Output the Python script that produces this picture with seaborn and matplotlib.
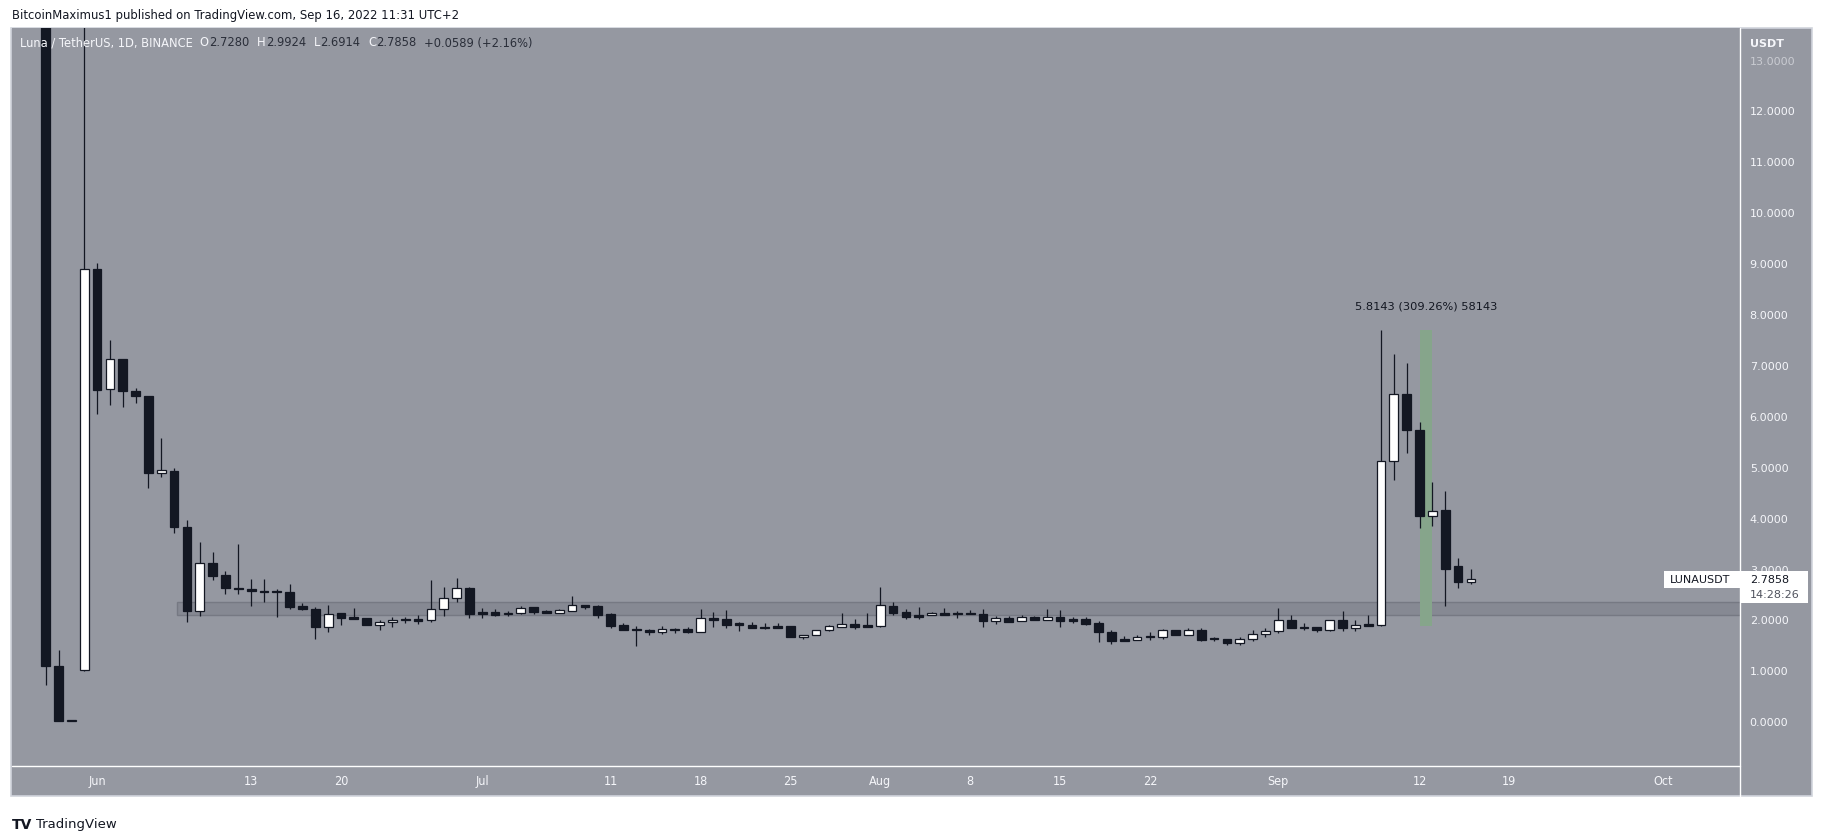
import numpy as np
import pandas as pd
import matplotlib
matplotlib.use("Agg")
import matplotlib.pyplot as plt
import matplotlib.dates as mdates
from matplotlib.patches import Rectangle
from matplotlib.lines import Line2D
import seaborn as sns

# daily candles, LUNA/USDT (Binance), first candle 2022-05-28
start_day = "2022-05-28"
opens = [18.5, 1.09, 0.0, 1.01, 8.88, 6.52, 7.12, 6.49, 6.39, 4.87,
         4.92, 3.82, 2.16, 3.10, 2.88, 2.62, 2.59, 2.54, 2.54, 2.53,
         2.26, 2.21, 1.85, 2.12, 2.04, 2.02, 1.90, 1.94, 1.985, 2.01,
         1.99, 2.21, 2.42, 2.61, 2.14, 2.15, 2.10, 2.13, 2.24, 2.16,
         2.13, 2.17, 2.28, 2.26, 2.10, 1.89, 1.805, 1.80, 1.75, 1.805,
         1.81, 1.76, 2.03, 2.00, 1.905, 1.90, 1.845, 1.87, 1.87, 1.66,
         1.70, 1.80, 1.86, 1.91, 1.89, 1.87, 2.26, 2.14, 2.09, 2.08,
         2.12, 2.115, 2.105, 2.10, 1.97, 2.02, 1.96, 2.04, 1.99, 2.04,
         2.00, 2.00, 1.93, 1.76, 1.61, 1.60, 1.665, 1.66, 1.80, 1.70,
         1.80, 1.615, 1.61, 1.54, 1.62, 1.72, 1.77, 1.98, 1.835, 1.85,
         1.79, 1.99, 1.83, 1.91, 1.89, 5.11, 6.42, 5.73, 4.03, 4.15,
         3.04, 2.7280]
highs = [19.8, 1.39, 0.02, 19.0, 9.00, 7.49, 7.12, 6.55, 6.39, 5.57,
         4.97, 3.96, 3.52, 3.32, 2.95, 3.49, 2.80, 2.80, 2.59, 2.69,
         2.33, 2.25, 2.28, 2.12, 2.22, 2.02, 1.98, 2.04, 2.05, 2.08,
         2.77, 2.63, 2.81, 2.63, 2.22, 2.20, 2.16, 2.26, 2.24, 2.18,
         2.20, 2.46, 2.28, 2.28, 2.12, 1.93, 1.87, 1.82, 1.87, 1.83,
         1.85, 2.20, 2.15, 2.18, 1.95, 1.94, 1.93, 1.93, 1.87, 1.70,
         1.80, 1.90, 2.12, 2.00, 2.12, 2.63, 2.34, 2.20, 2.24, 2.14,
         2.22, 2.16, 2.18, 2.20, 2.06, 2.06, 2.09, 2.06, 2.20, 2.18,
         2.05, 2.04, 1.96, 1.79, 1.67, 1.69, 1.75, 1.82, 1.80, 1.84,
         1.84, 1.65, 1.61, 1.65, 1.79, 1.84, 2.22, 2.08, 1.93, 1.85,
         1.99, 2.16, 1.98, 2.08, 7.69, 7.21, 7.03, 5.87, 4.70, 4.52,
         3.20, 2.9924]
lows = [0.71, 0.00, 0.00, 0.98, 6.03, 6.21, 6.18, 6.25, 4.58, 4.79,
        3.69, 1.95, 2.06, 2.78, 2.50, 2.50, 2.27, 2.35, 2.05, 2.20,
        2.19, 1.61, 1.75, 1.89, 2.01, 1.89, 1.79, 1.85, 1.92, 1.91,
        1.95, 2.07, 2.34, 2.03, 2.03, 2.07, 2.07, 2.11, 2.11, 2.13,
        2.13, 2.17, 2.20, 2.03, 1.83, 1.79, 1.48, 1.70, 1.71, 1.73,
        1.73, 1.76, 1.85, 1.83, 1.77, 1.83, 1.81, 1.83, 1.66, 1.62,
        1.70, 1.77, 1.86, 1.81, 1.85, 1.85, 2.09, 2.01, 2.01, 2.08,
        2.09, 2.02, 2.10, 1.85, 1.91, 1.95, 1.96, 1.99, 1.99, 1.85,
        1.93, 1.89, 1.56, 1.52, 1.58, 1.60, 1.60, 1.62, 1.70, 1.70,
        1.58, 1.58, 1.50, 1.50, 1.58, 1.66, 1.74, 1.83, 1.79, 1.75,
        1.77, 1.77, 1.77, 1.87, 1.88, 4.73, 5.27, 3.79, 3.83, 2.26,
        2.62, 2.6914]
closes = [1.09, 0.01, 0.0, 8.88, 6.51, 7.12, 6.48, 6.38, 4.87, 4.93,
          3.82, 2.16, 3.10, 2.86, 2.61, 2.60, 2.55, 2.53, 2.53, 2.25,
          2.21, 1.85, 2.10, 2.03, 2.01, 1.89, 1.94, 1.98, 1.98, 1.97,
          2.21, 2.43, 2.61, 2.11, 2.11, 2.08, 2.13, 2.23, 2.15, 2.13,
          2.18, 2.28, 2.25, 2.09, 1.87, 1.79, 1.80, 1.75, 1.81, 1.80,
          1.75, 2.02, 1.99, 1.89, 1.90, 1.83, 1.84, 1.83, 1.66, 1.70,
          1.80, 1.87, 1.91, 1.85, 1.85, 2.28, 2.13, 2.05, 2.04, 2.12,
          2.09, 2.11, 2.10, 1.97, 2.02, 1.95, 2.04, 1.99, 2.04, 1.97,
          1.97, 1.91, 1.75, 1.58, 1.58, 1.66, 1.66, 1.80, 1.70, 1.80,
          1.60, 1.61, 1.54, 1.62, 1.72, 1.78, 1.98, 1.83, 1.83, 1.79,
          1.99, 1.83, 1.89, 1.87, 5.11, 6.42, 5.72, 4.03, 4.13, 2.99,
          2.73, 2.7858]

# support zone and price-range measure
zone_start = "2022-06-07 05:00"
zone_low, zone_high = 2.08, 2.34
measure_start, measure_end = "2022-09-12", "2022-09-13"
measure_low, measure_high = 1.8800, 7.6943
measure_label = "5.8143 (309.26%) 58143"

tick_dates = ["2022-06-01", "2022-06-13", "2022-06-20", "2022-07-01", "2022-07-11",
              "2022-07-18", "2022-07-25", "2022-08-01", "2022-08-08", "2022-08-15",
              "2022-08-22", "2022-09-01", "2022-09-12", "2022-09-19", "2022-10-01"]
tick_labels = ["Jun", "13", "20", "Jul", "11", "18", "25", "Aug", "8", "15",
               "22", "Sep", "12", "19", "Oct"]
price_ticks = list(range(0, 14))

header = "BitcoinMaximus1 published on TradingView.com, Sep 16, 2022 11:31 UTC+2"
symbol = "LUNAUSDT"
countdown = "14:28:26"

GRAY = "#9598a1"
DARK = "#131722"
LIGHT = "#f5f6fa"

sns.set_theme(style="dark")
plt.rcParams["font.family"] = ["DejaVu Sans"]

df = pd.DataFrame({"date": pd.date_range(start_day, periods=len(opens), freq="D"),
                   "open": opens, "high": highs, "low": lows, "close": closes})

W, H = 1824, 837
def fx(x):
    return x / W
def fy(y):
    return 1 - y / H

fig = plt.figure(figsize=(W / 100, H / 100), dpi=100)
fig.patch.set_facecolor("white")

# chart frame
fig.add_artist(Rectangle((fx(11), fy(797)), fx(1812) - fx(11), fy(29) - fy(797),
                         transform=fig.transFigure, facecolor=GRAY,
                         edgecolor="#d1d4dc", lw=1.2, zorder=0))

ax = fig.add_axes([fx(12), fy(767), fx(1740) - fx(12), fy(29) - fy(767)])
ax.set_facecolor(GRAY)
for s in ax.spines.values():
    s.set_visible(False)
ax.grid(False)

x = mdates.date2num(df["date"])
o = df["open"].values
c = df["close"].values
up = c >= o
bottom = np.minimum(o, c)
height = np.maximum(np.abs(c - o), 0.02)

ax.vlines(x, df["low"], df["high"], color=DARK, lw=0.9, zorder=2)
ax.bar(x[up], height[up], bottom=bottom[up], width=0.68, color="white",
       edgecolor=DARK, lw=0.9, zorder=3)
ax.bar(x[~up], height[~up], bottom=bottom[~up], width=0.68, color=DARK,
       edgecolor=DARK, lw=0.9, zorder=3)

x0 = mdates.date2num(pd.Timestamp("2022-05-25 09:00"))
x1 = mdates.date2num(pd.Timestamp("2022-10-06 23:00"))
ax.set_xlim(x0, x1)
ax.set_ylim(-0.88, 13.62)

zs = mdates.date2num(pd.Timestamp(zone_start))
ax.add_patch(Rectangle((zs, zone_low), x1 - zs + 1, zone_high - zone_low,
                       facecolor="#868993", edgecolor="#767983", lw=1, zorder=1))

m0 = mdates.date2num(pd.Timestamp(measure_start))
m1 = mdates.date2num(pd.Timestamp(measure_end))
ax.add_patch(Rectangle((m0, measure_low), m1 - m0, measure_high - measure_low,
                       facecolor="#86a58b", edgecolor="none", zorder=1.5))
ax.text((m0 + m1) / 2, measure_high + 0.48, measure_label, ha="center", va="center",
        fontsize=8.2, color=DARK)

ax.yaxis.tick_right()
ax.set_yticks(price_ticks)
ax.set_yticklabels([f"{v:.4f}" for v in price_ticks])
ax.set_xticks(mdates.date2num(pd.to_datetime(tick_dates)))
ax.set_xticklabels(tick_labels)
ax.tick_params(axis="y", length=0, pad=7, labelsize=8, labelcolor=LIGHT)
ax.tick_params(axis="x", length=0, pad=6, labelsize=9, labelcolor=LIGHT)
for lab in ax.get_xticklabels():
    lab.set_fontstretch("condensed")
ax.get_yticklabels()[-1].set_alpha(0.55)

# separators of the price and time scales
fig.add_artist(Line2D([fx(12), fx(1740)], [fy(767), fy(767)], transform=fig.transFigure,
                      color="white", lw=1, zorder=3))
fig.add_artist(Line2D([fx(1740), fx(1740)], [fy(29), fy(797)], transform=fig.transFigure,
                      color="white", lw=1, zorder=3))

fig.text(fx(1750), fy(44), "USDT", fontsize=8, weight="bold", color=LIGHT, va="center")

# header and legend line
fig.text(fx(12), fy(16), header, fontsize=8.4, color=DARK, va="center")
renderer = fig.canvas.get_renderer()
pieces = [("Luna / TetherUS, 1D, BINANCE", LIGHT, 7), ("O", LIGHT, 0), ("2.7280", "#2a2e39", 8),
          ("H", LIGHT, 0), ("2.9924", "#2a2e39", 8), ("L", LIGHT, 0), ("2.6914", "#2a2e39", 8),
          ("C", LIGHT, 0), ("2.7858", "#2a2e39", 8), ("+0.0589 (+2.16%)", "#2a2e39", 0)]
px = 20
for txt, col, gap in pieces:
    t = fig.text(fx(px), fy(43), txt, fontsize=8.3, color=col, va="center")
    px += t.get_window_extent(renderer).width + gap

# last price tag
yc = ax.transData.transform((x1, closes[-1]))[1]
fig.add_artist(Rectangle((fx(1664), (yc - 8.5) / H), fx(1740) - fx(1664), 17 / H,
                         transform=fig.transFigure, facecolor="white", edgecolor="none", zorder=5))
fig.add_artist(Rectangle((fx(1740), (yc - 23.5) / H), fx(1808) - fx(1740), 32 / H,
                         transform=fig.transFigure, facecolor="white", edgecolor="none", zorder=5))
fig.text(fx(1670), yc / H, symbol, fontsize=8, color=DARK, va="center", zorder=6)
fig.text(fx(1750), yc / H, f"{closes[-1]:.4f}", fontsize=8, color=DARK, va="center", zorder=6)
fig.text(fx(1750), (yc - 15) / H, countdown, fontsize=8, color="#50535e", va="center", zorder=6)

# footer logo
fig.text(fx(12), fy(825), "TV", fontsize=10, weight="heavy", color=DARK, va="center")
fig.text(fx(36), fy(825), "TradingView", fontsize=9.5, color=DARK, va="center")

fig.savefig("out.png", dpi=100, facecolor="white")
